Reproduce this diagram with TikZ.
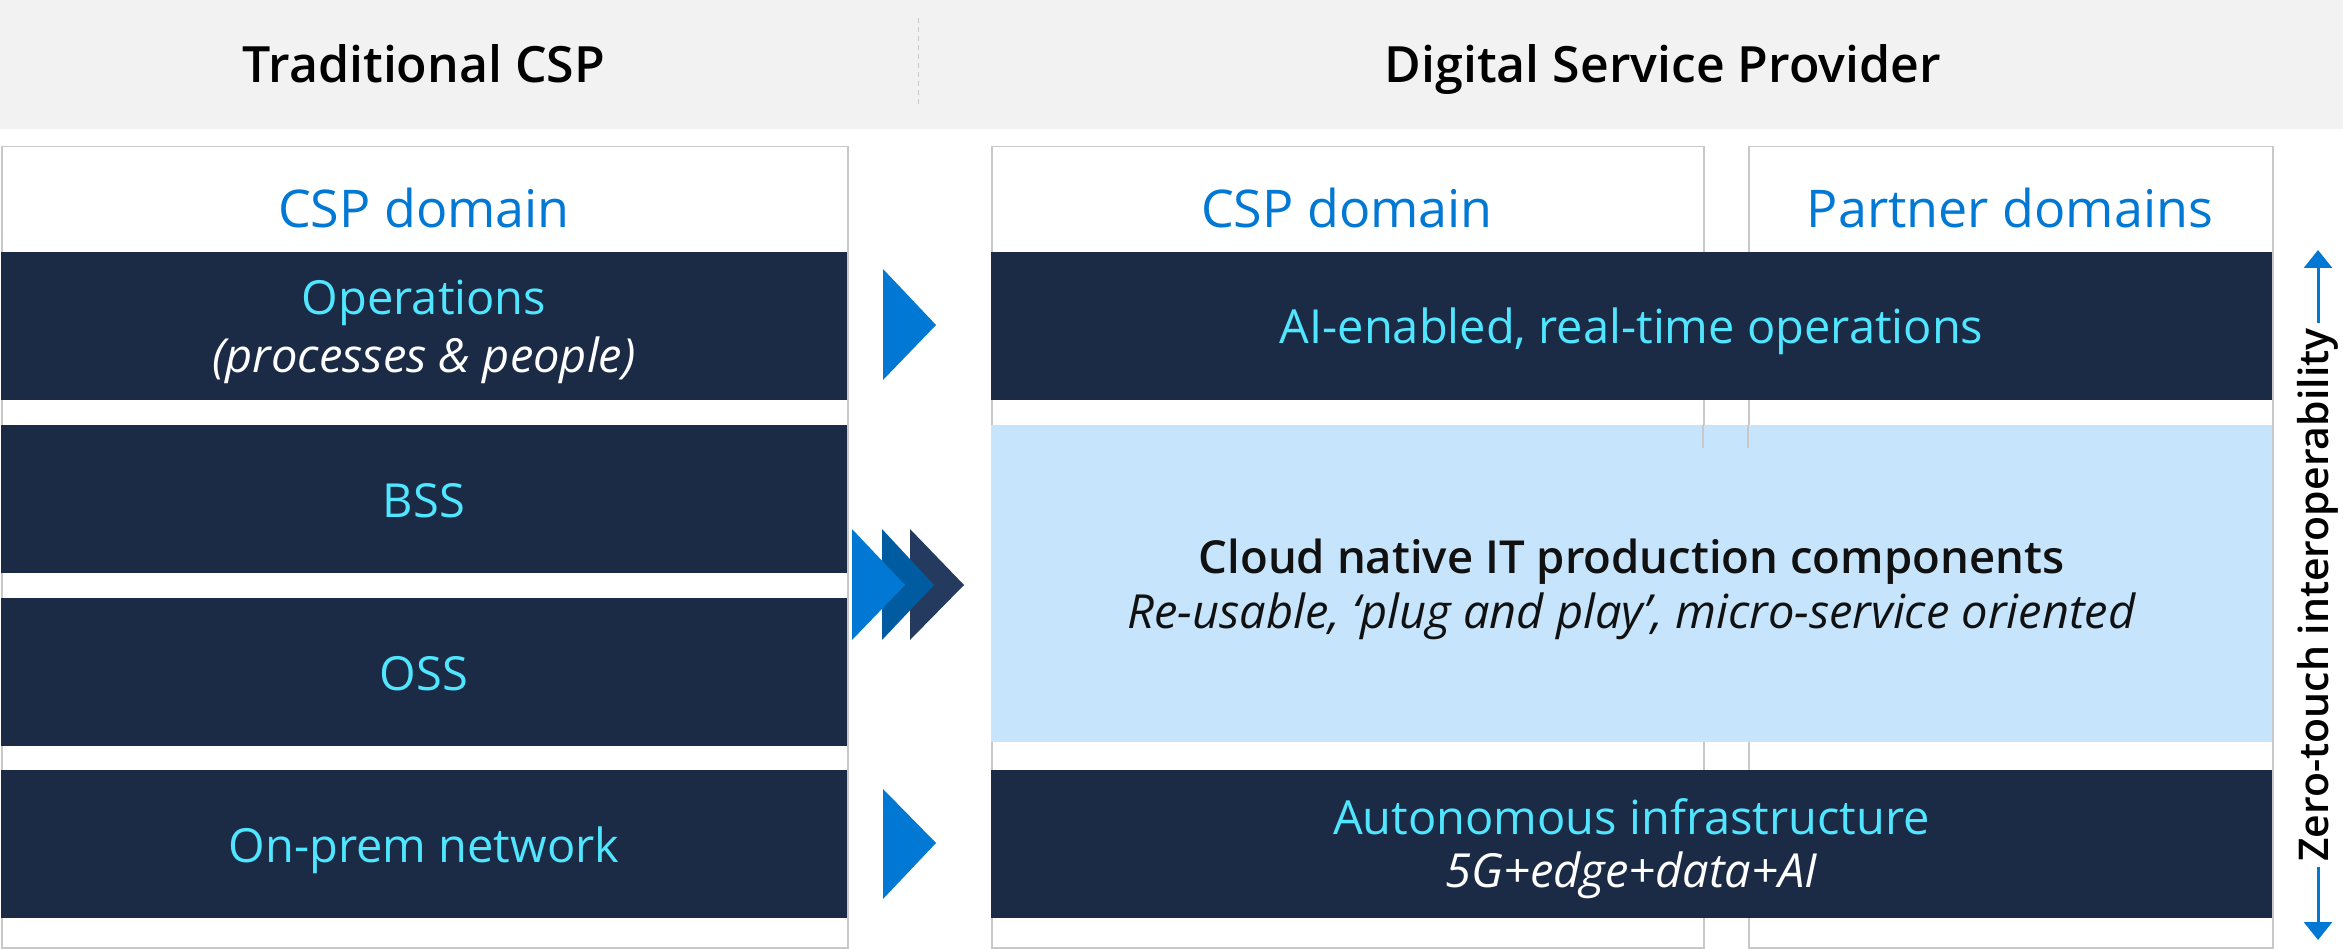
\documentclass[tikz,border=0pt]{standalone}
\usepackage{fontspec}
\setmainfont{Open Sans}
\IfFontExistsTF{Open Sans SemiBold}
  {\newfontfamily\semibold{Open Sans SemiBold}}
  {\IfFontExistsTF{Open Sans Semibold}
    {\newfontfamily\semibold{Open Sans Semibold}}
    {\newcommand\semibold{\bfseries}}}
\usetikzlibrary{arrows.meta}

\definecolor{barnavy}{HTML}{1B2A45}
\definecolor{cyantext}{HTML}{50E6FF}
\definecolor{headblue}{HTML}{0078D4}
\definecolor{paleblue}{HTML}{C6E5FC}
\definecolor{bandgray}{HTML}{F2F2F2}
\definecolor{framegray}{HTML}{C8C8C8}
\definecolor{arrowmid}{HTML}{005BA1}
\definecolor{arrowdark}{HTML}{243A5E}
\definecolor{inktext}{HTML}{111111}

\newcommand\headfont{\fontsize{50}{60}\selectfont\semibold}
\newcommand\titlefont{\fontsize{52}{62}\selectfont}
\newcommand\barfont{\fontsize{47}{59}\selectfont}

\begin{document}
\begin{tikzpicture}[x=1pt,y=-1pt,
  panel/.style={draw=framegray, line width=1.5pt, fill=white, inner sep=0pt, anchor=north west},
  txt/.style={inner sep=0pt, anchor=base},
  coltitle/.style={txt, text=headblue, font=\titlefont},
  navybar/.style={fill=barnavy, inner sep=0pt, minimum height=148pt},
  leftbar/.style={navybar, minimum width=846pt},
  rightbar/.style={navybar, minimum width=1281pt},
  barlabel/.style={txt, text=cyantext, font=\barfont},
  barnote/.style={txt, text=white, font=\barfont\itshape},
  zline/.style={draw=headblue, line width=3pt, {Triangle[width=28pt,length=18pt]}-{Triangle[width=28pt,length=18pt]}},
  ztext/.style={fill=white, rotate=90, inner xsep=5pt, inner ysep=0pt, text=black, font=\fontsize{41}{48}\selectfont\semibold}
]
\useasboundingbox (0,0) rectangle (2343,949);

% header band with the two column headings
\fill[bandgray] (0,0) rectangle (2343,129);
\node[txt, font=\headfont] (tradhead) at (424,83) {Traditional CSP};
\node[txt, font=\headfont] (dsphead) at (1663,83) {Digital Service Provider};
\draw[framegray, line width=1pt, dash pattern=on 5pt off 4pt] (918,18) -- (918,108);

% domain panels
\node[panel, minimum width=846pt, minimum height=801pt] (leftpanel) at (1,146) {};
\node[panel, minimum width=712pt, minimum height=801pt] (csppanel) at (991,146) {};
\node[panel, minimum width=524pt, minimum height=801pt] (partnerpanel) at (1748,146) {};

\node[coltitle] (lefttitle) at (424,228) {CSP domain};
\node[coltitle] (csptitle) at (1347,228) {CSP domain};
\node[coltitle] (partnertitle) at (2010,228) {Partner domains};

% traditional stack
\node[leftbar] (ops) at (424,326) {};
\node[leftbar] (bss) at (424,499) {};
\node[leftbar] (oss) at (424,672) {};
\node[leftbar] (onprem) at (424,844) {};
\node[barlabel] (opslabel) at (424,315) {Operations};
\node[barnote] (opsnote) at (424,373) {(processes \& people)};
\node[barlabel] (bsslabel) at (424,517) {BSS};
\node[barlabel] (osslabel) at (424,690) {OSS};
\node[barlabel] (onpremlabel) at (424,862) {On-prem network};

% digital service provider stack
\node[rightbar] (aiops) at (1631.5,326) {};
\node[fill=paleblue, inner sep=0pt, minimum width=1281pt, minimum height=317pt] (cloud) at (1631.5,583.5) {};
\node[rightbar] (autoinfra) at (1631.5,844) {};
\node[barlabel] (aiopslabel) at (1631.5,344) {AI-enabled, real-time operations};
\node[txt, text=inktext, font=\fontsize{45.5}{56}\selectfont\semibold] (cloudlabel) at (1631.5,573) {Cloud native IT production components};
\node[txt, text=inktext, font=\barfont\itshape] (cloudnote) at (1631.5,628) {Re-usable, ‘plug and play’, micro-service oriented};
\node[barlabel] (autolabel) at (1631.5,834) {Autonomous infrastructure};
\node[barnote] (autonote) at (1631.5,887) {5G+edge+data+AI};

% panel borders showing just below the operations bar
\draw[framegray, line width=1.5pt] (1703,425) -- (1703,448);
\draw[framegray, line width=1.5pt] (1748,425) -- (1748,448);

% transition arrows
\fill[headblue] (883,269) -- (936,325) -- (883,380) -- cycle;
\fill[arrowdark] (910,529) -- (964,585) -- (910,640) -- cycle;
\fill[arrowmid] (882,529) -- (934,585) -- (882,640) -- cycle;
\fill[headblue] (852,529) -- (905,585) -- (852,640) -- cycle;
\fill[headblue] (883,789) -- (936,843) -- (883,899) -- cycle;

% interoperability axis
\coordinate (ztop) at (2318,250);
\coordinate (zbot) at (2318,940);
\draw[zline] (zbot) -- node[ztext] (zlabel) {Zero-touch interoperability} (ztop);
\end{tikzpicture}
\end{document}
